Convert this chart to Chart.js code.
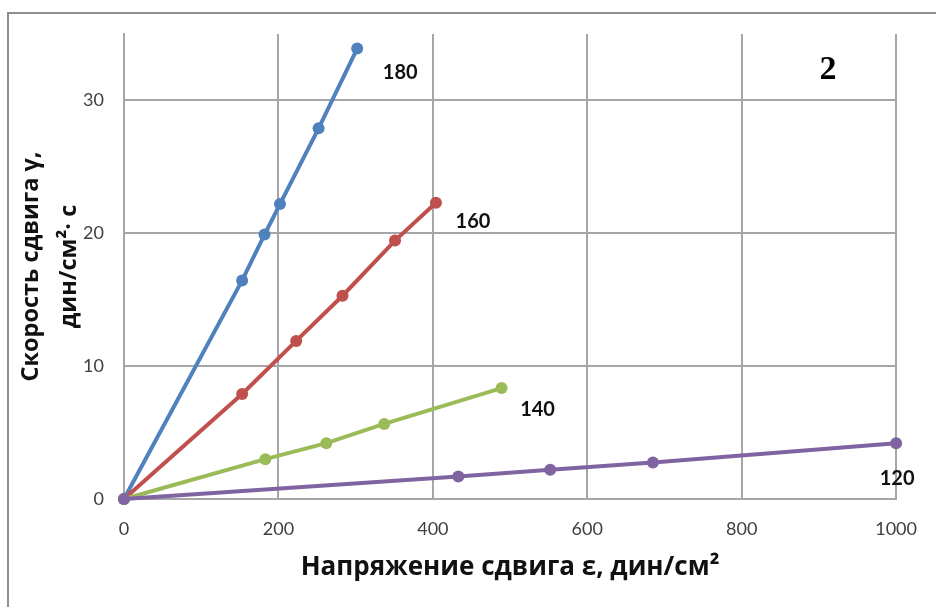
<!DOCTYPE html>
<html>
<head>
<meta charset="utf-8">
<script src="https://cdn.jsdelivr.net/npm/chart.js@4/dist/chart.umd.min.js"></script>
<style>
  html, body { margin: 0; padding: 0; background: #fff; }
  #wrap { position: relative; width: 936px; height: 607px; overflow: hidden; }
  #frame { position: absolute; left: 7px; top: 12px; width: 2000px; height: 2000px;
           border-left: 2px solid #8e8e8e; border-top: 2px solid #8e8e8e; box-sizing: border-box; }
  canvas { position: absolute; left: 0; top: 0; }
</style>
</head>
<body>
<div id="wrap">
  <div id="frame"></div>
  <canvas id="c" width="936" height="607"></canvas>
</div>
<script>
// Flow curves: shear rate vs shear stress at four temperatures
const seriesNames = ['120', '140', '160', '180'];

const stress120 = [0, 433, 552, 685, 1000];
const rate120   = [0, 1.7, 2.2, 2.75, 4.2];

const stress140 = [0, 183, 262, 337, 489];
const rate140   = [0, 3.0, 4.2, 5.65, 8.35];

const stress160 = [0, 153, 223, 283, 351, 404];
const rate160   = [0, 7.9, 11.9, 15.3, 19.45, 22.3];

const stress180 = [0, 153, 182, 202, 252, 302];
const rate180   = [0, 16.45, 19.9, 22.2, 27.9, 33.9];

const xTicks = [0, 200, 400, 600, 800, 1000];
const yTicks = [0, 10, 20, 30];

const colors = ['#8064A2', '#9BBB59', '#C0504D', '#4F81BD'];
// pixel offset of each series name from its last point
const nameOffsets = [[1, 35], [36, 21], [37, 19], [43, 24]];

const xs = [stress120, stress140, stress160, stress180];
const ys = [rate120, rate140, rate160, rate180];

const datasets = seriesNames.map((name, i) => ({
  label: name,
  data: xs[i].map((x, k) => ({ x: x, y: ys[i][k] })),
  borderColor: colors[i],
  backgroundColor: colors[i],
  borderWidth: 4,
  pointRadius: 6,
  pointHoverRadius: 6,
  pointBorderWidth: 0,
  showLine: true,
  tension: 0,
  clip: false
}));

const seriesLabels = {
  id: 'seriesLabels',
  afterDatasetsDraw(chart) {
    const ctx = chart.ctx;
    ctx.save();
    ctx.fillStyle = '#111';
    ctx.font = 'bold 20px Lato, "Open Sans", sans-serif';
    ctx.textAlign = 'center';
    ctx.textBaseline = 'middle';
    chart.data.datasets.forEach((ds, i) => {
      const pts = chart.getDatasetMeta(i).data;
      const last = pts[pts.length - 1];
      ctx.fillText(ds.label, last.x + nameOffsets[i][0], last.y + nameOffsets[i][1]);
    });
    // panel number
    ctx.font = 'bold 34px "Liberation Serif", "DejaVu Serif", serif';
    ctx.fillStyle = '#000';
    ctx.fillText('2', 828, 70);
    ctx.restore();
  }
};

const tickFont = { family: 'Lato, "Open Sans", sans-serif', size: 18 };

new Chart(document.getElementById('c'), {
  type: 'scatter',
  data: { datasets: datasets },
  options: {
    responsive: false,
    animation: false,
    events: [],
    layout: { padding: { left: 0, top: 34, right: 23, bottom: 0 } },
    plugins: { legend: { display: false }, tooltip: { enabled: false } },
    scales: {
      x: {
        type: 'linear',
        min: 0, max: 1000,
        afterFit(scale) { scale.height = 108; },
        afterBuildTicks(scale) { scale.ticks = xTicks.map(v => ({ value: v })); },
        grid: { color: '#a6a6a6', lineWidth: 2, drawTicks: false },
        border: { color: '#a6a6a6', width: 2 },
        ticks: { padding: 19, color: '#404040', font: tickFont, callback: v => String(v) },
        title: {
          display: true,
          text: 'Напряжение сдвига ε, дин/см²',
          color: '#111',
          font: { family: '"Open Sans", sans-serif', size: 26, weight: 'bold' },
          padding: { top: 0, bottom: 24 }
        }
      },
      y: {
        type: 'linear',
        min: 0, max: 35,
        afterFit(scale) { scale.width = 124; },
        afterBuildTicks(scale) { scale.ticks = yTicks.map(v => ({ value: v })); },
        grid: { color: '#a6a6a6', lineWidth: 2, drawTicks: false },
        border: { color: '#a6a6a6', width: 2 },
        ticks: { padding: 20, color: '#404040', font: tickFont, callback: v => String(v) },
        title: {
          display: true,
          text: ['Скорость сдвига γ,', 'дин/см²· с'],
          color: '#111',
          font: { family: '"Open Sans", sans-serif', size: 23.5, weight: 'bold', lineHeight: 1.62 },
          padding: { top: 12, bottom: 0 }
        }
      }
    }
  },
  plugins: [seriesLabels]
});
</script>
</body>
</html>
